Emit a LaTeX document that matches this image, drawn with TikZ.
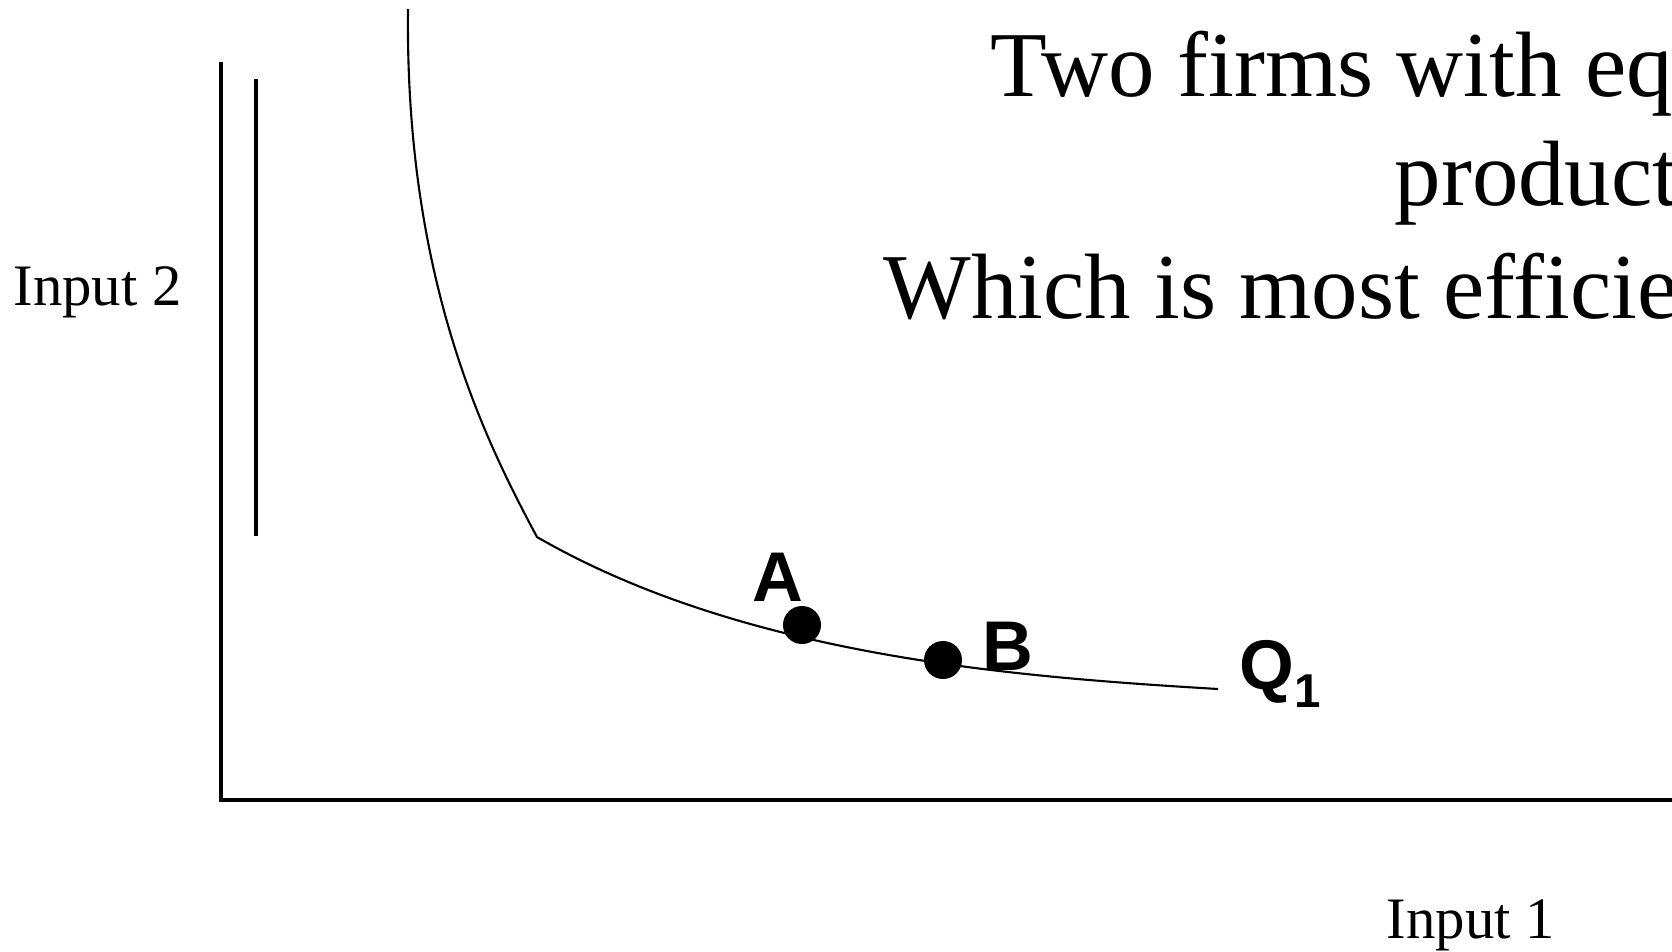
\documentclass[tikz,border=0pt]{standalone}
\usepackage{fontspec}
\setmainfont{Liberation Serif}
\newfontfamily\ptfont{Liberation Sans}
\usetikzlibrary{positioning}

\begin{document}
\begin{tikzpicture}[
  x=0.01cm, y=-0.01cm,
  axis/.style={line width=1.05pt},
  isoquant/.style={line width=0.6pt},
  firm/.style={circle, fill=black, minimum size=0.38cm, inner sep=0pt},
  ptlabel/.style={font=\ptfont\bfseries\fontsize{20}{22}\selectfont, inner sep=0pt, anchor=base west},
  axlabel/.style={font=\fontsize{16.7}{19}\selectfont, inner sep=0pt, anchor=base west},
  title/.style={font=\fontsize{26.4}{30}\selectfont, inner sep=0pt, anchor=base west},
]
\useasboundingbox (0,0) rectangle (1672,951);
\clip (0,0) rectangle (1672,951);

% axes
\coordinate (origin) at (221,800);
\coordinate (ytop) at (221,62);
\coordinate (xend) at (1700,800);
\draw[axis] (ytop) -- (origin) -- (xend);
\coordinate (bar1) at (256,79);
\coordinate (bar2) at (256,536);
\draw[axis] (bar1) -- (bar2);

% isoquant Q1
\coordinate (qtop) at (408,9);
\coordinate (kink) at (537,537);
\coordinate (qend) at (1218,689);
\draw[isoquant] (qtop) .. controls (405,280) and (485,440) .. (kink)
  .. controls (745,657) and (1018,677) .. (qend);

\node[firm] (dotA) at (802,625) {};
\node[firm] (dotB) at (943,660) {};

\node[ptlabel] (labA) at (752,601) {A};
\node[ptlabel] (labB) at (982,670) {B};
\node[ptlabel] (labQ) at (1239,689) {Q\raisebox{-5.4pt}{\fontsize{13.5}{14}\selectfont 1}};

\node[axlabel] (in2) at (13,305) {Input 2};
\node[axlabel] (in1) at (1386,938) {Input 1};

\node[title] (t1) at (990,96) {Two firms with equal};
\node[title] (t2) at (1394,205) {production};
\node[title] (t3) at (883,318) {Which is most efficient?};

\end{tikzpicture}
\end{document}
